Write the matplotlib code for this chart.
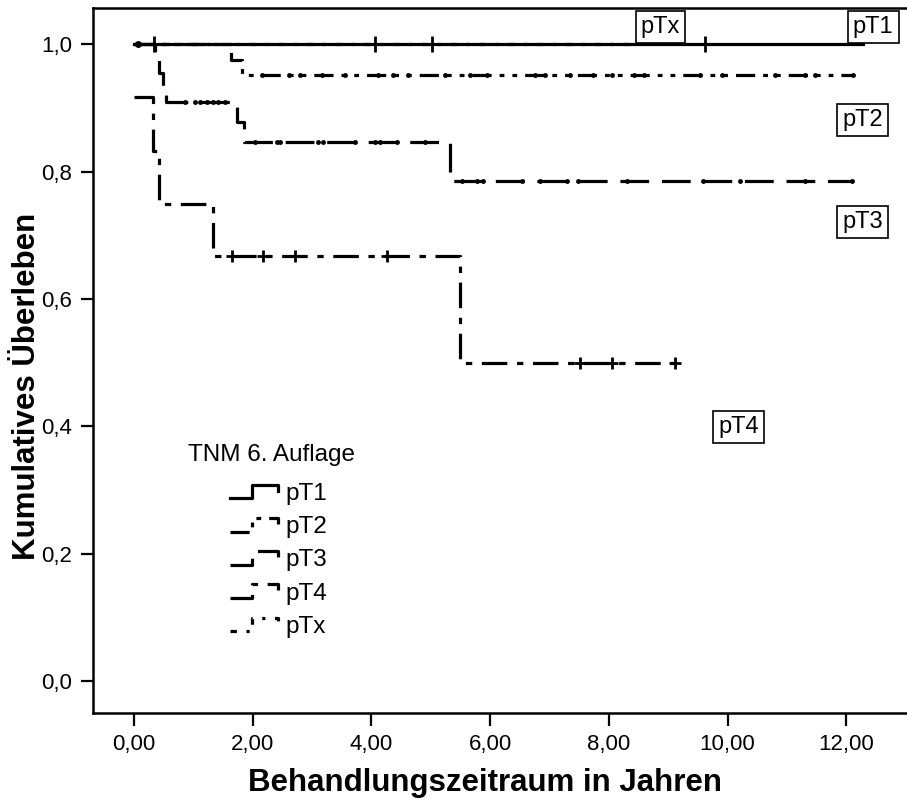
import numpy as np
import matplotlib
matplotlib.use("Agg")
import matplotlib.pyplot as plt
from matplotlib.lines import Line2D
from matplotlib.legend_handler import HandlerBase

plt.rcParams['font.family'] = ['Liberation Sans', 'DejaVu Sans']

# Kaplan-Meier steps: (time of step, survival after step)
pT1_steps_t = [0.0]
pT1_steps_s = [1.0]
pT1_end = 12.28
pT1_cens = [0.34, 4.06, 5.02, 9.62]

pT2_steps_t = [0.0, 1.64, 1.82]
pT2_steps_s = [1.0, 0.976, 0.952]
pT2_end = 12.12
pT2_cens = [2.16, 2.62, 2.79, 3.17, 3.56, 4.11, 4.36, 4.61, 5.24, 5.66, 5.95,
            6.75, 6.93, 7.35, 7.73, 8.05, 8.42, 8.60, 9.54, 9.90, 10.79,
            11.31, 11.47, 12.12]

pT3_steps_t = [0.0, 0.35, 0.42, 0.49, 0.54, 1.73, 1.86, 5.33]
pT3_steps_s = [1.0, 0.977, 0.955, 0.932, 0.909, 0.878, 0.847, 0.786]
pT3_end = 12.1
pT3_cens = [0.86, 1.03, 1.12, 1.23, 1.33, 1.42, 1.54,
            2.04, 2.41, 2.46, 3.10, 3.19, 3.72, 4.06, 4.14, 4.43, 4.91,
            5.53, 5.78, 5.88, 6.53, 6.84, 7.30, 7.48, 8.30, 9.59, 10.21,
            11.31, 12.1]

pT4_steps_t = [0.0, 0.32, 0.42, 1.33, 5.50]
pT4_steps_s = [0.917, 0.833, 0.75, 0.667, 0.5]
pT4_end = 9.2
pT4_cens = [1.65, 2.17, 2.72, 4.26, 7.51, 8.05, 9.12]

pTx_steps_t = [0.0]
pTx_steps_s = [1.0]
pTx_end = 8.4
pTx_cens = [0.07]

groups = ['pT1', 'pT2', 'pT3', 'pT4', 'pTx']
label_pos = {'pT1': (12.45, 1.027), 'pT2': (12.27, 0.881), 'pT3': (12.27, 0.721),
             'pT4': (10.18, 0.399), 'pTx': (8.87, 1.027)}

xticks = [0, 2, 4, 6, 8, 10, 12]
xticklabels = ['0,00', '2,00', '4,00', '6,00', '8,00', '10,00', '12,00']
yticks = [0.0, 0.2, 0.4, 0.6, 0.8, 1.0]
yticklabels = ['0,0', '0,2', '0,4', '0,6', '0,8', '1,0']

styles = {
    'pT1': dict(ls='-', marker='+', ms=11, mew=2),
    'pT2': dict(ls=(0, (6, 2.5, 1.5, 2.5, 1.5, 2.5)), marker='o', ms=3.5, mew=0),
    'pT3': dict(ls=(0, (9, 4)), marker='o', ms=3.5, mew=0),
    'pT4': dict(ls=(0, (8, 3, 2, 3)), marker='+', ms=9, mew=2),
    'pTx': dict(ls=(0, (2, 3, 1, 3)), marker='o', ms=5, mew=0),
}

data = {
    'pT1': (pT1_steps_t, pT1_steps_s, pT1_end, pT1_cens),
    'pT2': (pT2_steps_t, pT2_steps_s, pT2_end, pT2_cens),
    'pT3': (pT3_steps_t, pT3_steps_s, pT3_end, pT3_cens),
    'pT4': (pT4_steps_t, pT4_steps_s, pT4_end, pT4_cens),
    'pTx': (pTx_steps_t, pTx_steps_s, pTx_end, pTx_cens),
}


def surv_at(ts, ss, t):
    idx = np.searchsorted(ts, t, side='right') - 1
    return np.array(ss)[idx]


class StepHandler(HandlerBase):
    def create_artists(self, legend, orig_handle, xdescent, ydescent,
                       width, height, fontsize, trans):
        xs = np.array([0, 0.45, 0.45, 1.0, 1.0]) * width - xdescent
        ys = np.array([0.1, 0.1, 0.9, 0.9, 0.55]) * height - ydescent
        line = Line2D(xs, ys)
        line.update_from(orig_handle)
        line.set_marker('None')
        line.set_transform(trans)
        return [line]


fig = plt.figure(figsize=(9.07, 8.0), dpi=100)
ax = fig.add_axes([0.1025, 0.10875, 0.9, 0.88125])

handles = []
for g in groups:
    ts, ss, end, cens = data[g]
    st = styles[g]
    xs = list(ts) + [end]
    ys = list(ss) + [ss[-1]]
    line, = ax.step(xs, ys, where='post', color='black', lw=2.3,
                    linestyle=st['ls'], label=g)
    cens = np.array(cens)
    ax.plot(cens, surv_at(ts, ss, cens), linestyle='none', color='black',
            marker=st['marker'], ms=st['ms'], mew=st['mew'])
    handles.append(line)
    lx, ly = label_pos[g]
    ax.text(lx, ly, g, fontsize=17, ha='center', va='center',
            bbox=dict(boxstyle='square,pad=0.22', fc='white', ec='black', lw=1.2))

ax.set_xlim(-0.69, 13.06)
ax.set_ylim(-0.05, 1.057)
ax.set_xticks(xticks)
ax.set_xticklabels(xticklabels)
ax.set_yticks(yticks)
ax.set_yticklabels(yticklabels)
ax.tick_params(labelsize=16, width=1.6, length=9, direction='out', pad=6)
for sp in ax.spines.values():
    sp.set_linewidth(1.8)

ax.set_xlabel('Behandlungszeitraum in Jahren', fontsize=22.5, fontweight='bold')
ax.set_ylabel('Kumulatives Überleben', fontsize=22.5, fontweight='bold')
ax.xaxis.set_label_coords(0.48, -0.078)
ax.yaxis.set_label_coords(-0.063, 0.464)

ax.text(0.91, 0.355, 'TNM 6. Auflage', fontsize=17.5, ha='left', va='center')
leg = ax.legend(handles=handles, labels=groups, loc='upper left',
                bbox_to_anchor=(1.62, 0.311), bbox_transform=ax.transData,
                frameon=False, fontsize=17.5, handlelength=1.98, handletextpad=0.3,
                labelspacing=0.46, borderpad=0, borderaxespad=0,
                handler_map={Line2D: StepHandler()})

fig.savefig('out.png', dpi=100)
